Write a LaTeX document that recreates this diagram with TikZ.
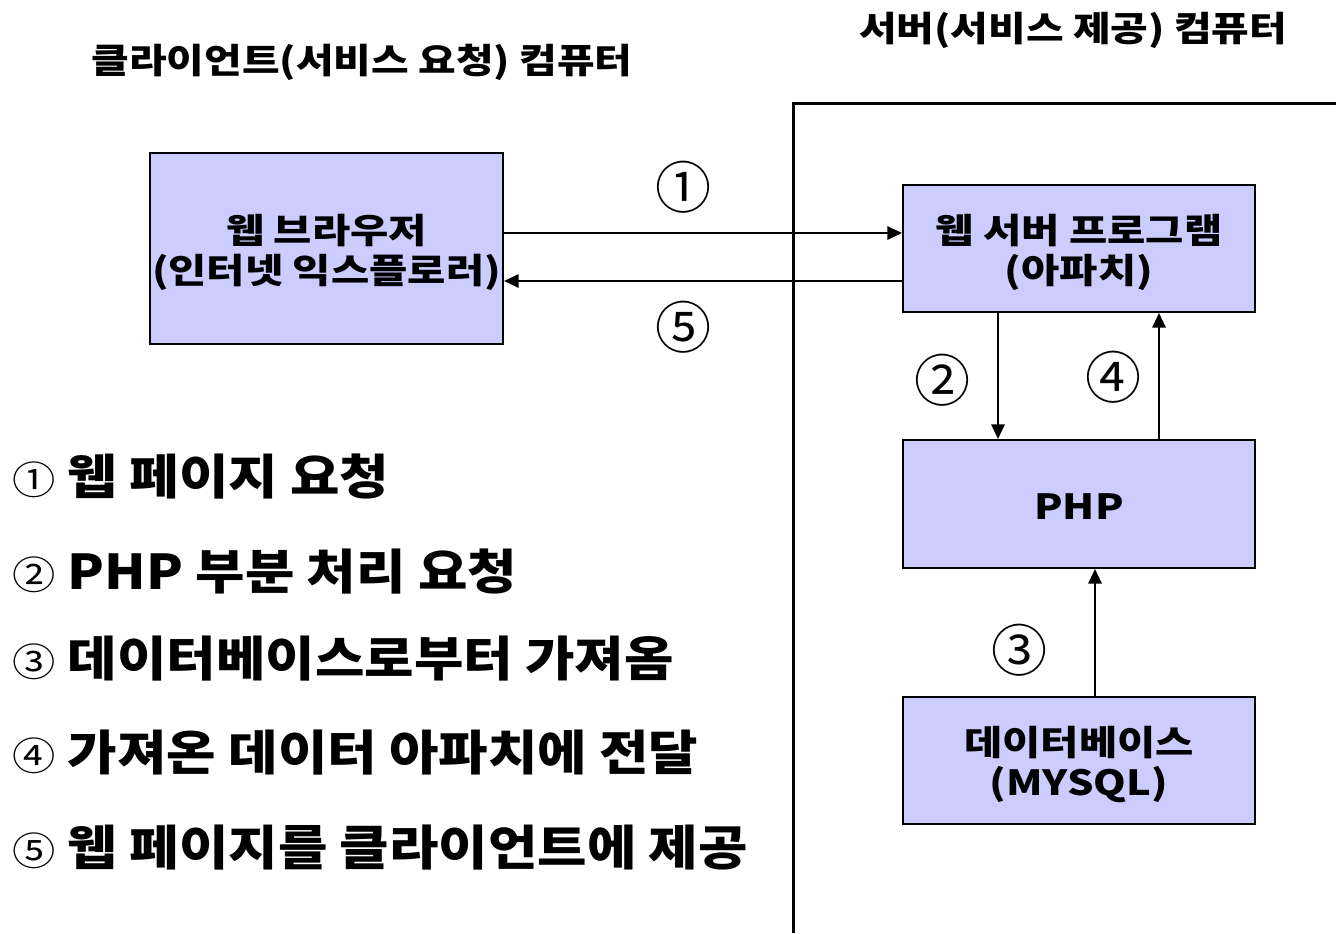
\documentclass[tikz,border=0pt]{standalone}
\usepackage{fontspec}
\setmainfont{Noto Sans CJK KR}
\newfontfamily\krwide[FakeStretch=1.2]{Noto Sans CJK KR}
\newfontfamily\krtitle[FakeStretch=1.18]{Noto Sans CJK KR}
\newfontfamily\krlist[FakeStretch=1.12]{Noto Sans CJK KR}
\usetikzlibrary{calc,arrows.meta}
\definecolor{boxfill}{HTML}{CCCCFF}
\tikzset{
  box/.style={draw=black, fill=boxfill, line width=1.5pt, inner sep=0pt},
  boxtext/.style={align=center, font=\krwide\fontsize{26}{30.5}\selectfont\bfseries, inner sep=0pt},
  arr/.style={line width=1.5pt, -{Triangle[length=11pt,width=10pt]}},
  numlbl/.style={font=\fontsize{42}{46}\selectfont, inner sep=0pt},
  title/.style={font=\krtitle\fontsize{26}{31}\selectfont\bfseries, inner sep=0pt},
  item/.style={anchor=west, font=\krlist\fontsize{36}{40}\selectfont\bfseries, inner sep=0pt},
}
\newcommand{\cnum}[1]{{\fontsize{29}{30}\selectfont\mdseries #1}}
\begin{document}
\begin{tikzpicture}[x=0.75pt, y=-0.75pt]
\useasboundingbox (0,0) rectangle (1336,933);
% server frame
\draw[line width=2.25pt] (793,933) -- (793,103) -- (1336,103);
% titles
\node[title] (tl) at (362,62) {클라이언트(서비스 요청) 컴퓨터};
\node[title] (tr) at (1073,30) {서버(서비스 제공) 컴퓨터};
% boxes
\node[box, minimum width=264.75pt, minimum height=143.25pt] (b) at (326.5,248.5) {};
\node[box, minimum width=264pt, minimum height=95.25pt] (w) at (1079,248.5) {};
\node[box, minimum width=264pt, minimum height=96pt] (p) at (1079,504) {};
\node[box, minimum width=264pt, minimum height=95.25pt] (d) at (1079,760.5) {};
\node[boxtext] (bt) at ($(b.center)+(0,4)$) {웹 브라우저\\(인터넷 익스플로러)};
\node[boxtext] (wt) at ($(w.center)+(0,4)$) {웹 서버 프로그램\\(아파치)};
\node[boxtext] (pt) at ($(p.center)+(0,3)$) {PHP};
\node[boxtext] (dt) at ($(d.center)+(0,4)$) {데이터베이스\\(MYSQL)};
% arrows
\draw[arr] ($(b.east)+(0,-15.5)$) -- ($(w.west)+(0,-15.5)$);
\draw[arr] ($(w.west)+(0,32.5)$) -- ($(b.east)+(0,32.5)$);
\draw[arr] ($(w.south)+(-81,0)$) -- ($(p.north)+(-81,0)$);
\draw[arr] ($(p.north)+(80,0)$) -- ($(w.south)+(80,0)$);
\draw[arr] ($(d.north)+(16,0)$) -- ($(p.south)+(16,0)$);
% arrow labels
\node[numlbl] (n1) at (683,187) {①};
\node[numlbl] (n5) at (683,327) {⑤};
\node[numlbl] (n2) at (942,380) {②};
\node[numlbl] (n4) at (1113,377) {④};
\node[numlbl] (n3) at (1019,650) {③};
% list
\node[item] (i1) at (12,477) {\cnum{①} 웹 페이지 요청};
\node[item] (i2) at (12,572) {\cnum{②} PHP 부분 처리 요청};
\node[item] (i3) at (12,659) {\cnum{③} 데이터베이스로부터 가져옴};
\node[item] (i4) at (12,753) {\cnum{④} 가져온 데이터 아파치에 전달};
\node[item] (i5) at (12,848) {\cnum{⑤} 웹 페이지를 클라이언트에 제공};
\end{tikzpicture}
\end{document}
